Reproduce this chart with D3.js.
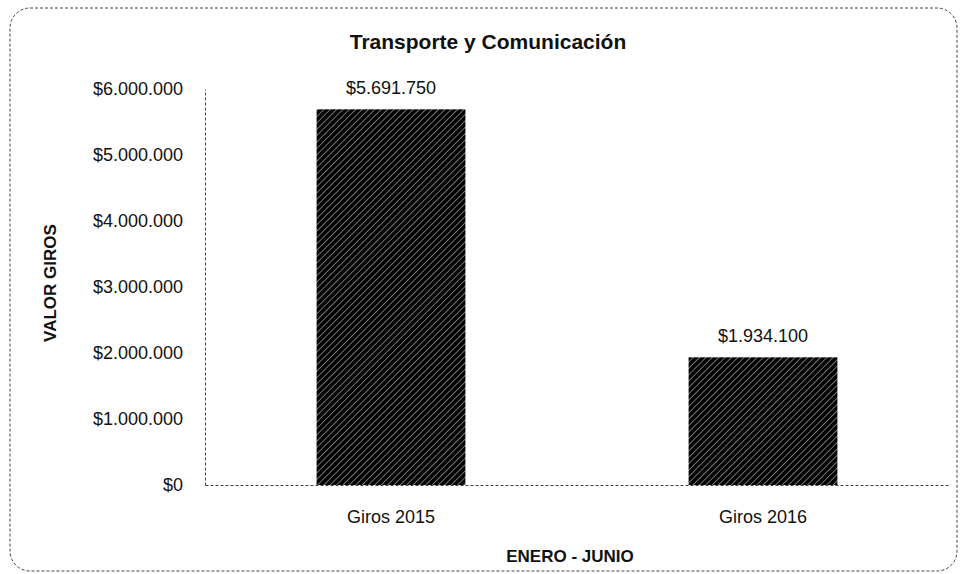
<!DOCTYPE html>
<html>
<head>
<meta charset="utf-8">
<script src="https://cdn.jsdelivr.net/npm/d3@7"></script>
<style>
  body { margin: 0; background: #fff; }
  svg { font-family: "Liberation Sans", Arial, sans-serif; }
</style>
</head>
<body>
<script>
const categories = ["Giros 2015", "Giros 2016"]
const values     = [5691750, 1934100]
const valueLabels = ["$5.691.750", "$1.934.100"]
const yTicks     = [0, 1000000, 2000000, 3000000, 4000000, 5000000, 6000000]

const width = 965, height = 574
const fmt = (v) => "$" + d3.format(",")(v).replace(/,/g, ".")

const svg = d3.select("body").append("svg")
    .attr("width", width)
    .attr("height", height)

const defs = svg.append("defs")
const pat = defs.append("pattern")
    .attr("id", "hatch")
    .attr("patternUnits", "userSpaceOnUse")
    .attr("width", 4.5)
    .attr("height", 4.5)
    .attr("patternTransform", "rotate(45)")
pat.append("rect").attr("width", 4.5).attr("height", 4.5).attr("fill", "#000")
pat.append("line")
    .attr("x1", 0).attr("y1", 0).attr("x2", 0).attr("y2", 4.5)
    .attr("stroke", "#bdbdbd").attr("stroke-width", 1.2)

// outer frame
svg.append("rect")
    .attr("x", 10).attr("y", 8)
    .attr("width", 947).attr("height", 563)
    .attr("rx", 20).attr("ry", 20)
    .attr("fill", "none")
    .attr("stroke", "#444")
    .attr("stroke-width", 1)
    .attr("stroke-dasharray", "3,2")

const x = d3.scaleBand()
    .domain(categories)
    .range([205, 949])
    .paddingInner(0.6)
    .paddingOuter(0.3)

const y = d3.scaleLinear()
    .domain([0, 6000000])
    .range([485, 89])

// bars
svg.append("g")
    .selectAll("rect")
    .data(values)
    .enter()
    .append("rect")
        .attr("x", (d, i) => x(categories[i]))
        .attr("y", (d) => y(d))
        .attr("width", x.bandwidth())
        .attr("height", (d) => y(0) - y(d))
        .attr("fill", "url(#hatch)")

// value labels
svg.append("g")
    .selectAll("text")
    .data(values)
    .enter()
    .append("text")
        .attr("x", (d, i) => x(categories[i]) + x.bandwidth() / 2)
        .attr("y", (d) => y(d) - 15)
        .attr("text-anchor", "middle")
        .attr("font-size", 18)
        .attr("fill", "#111")
        .text((d, i) => valueLabels[i])

// y axis
const yAxis = svg.append("g")
    .attr("transform", "translate(205,0)")
    .call(d3.axisLeft(y).tickValues(yTicks).tickSize(0).tickPadding(22).tickFormat(fmt))
yAxis.select(".domain")
    .attr("stroke", "#444")
    .attr("stroke-dasharray", "3,2")
yAxis.selectAll("text")
    .attr("font-size", 18)
    .attr("font-family", "Liberation Sans, Arial, sans-serif")
    .attr("fill", "#111")

// x axis
const xAxis = svg.append("g")
    .attr("transform", `translate(0,${y(0)})`)
    .call(d3.axisBottom(x).tickSize(0))
xAxis.select(".domain")
    .attr("stroke", "#444")
    .attr("stroke-dasharray", "3,2")
xAxis.selectAll("text")
    .attr("y", 38)
    .attr("dy", 0)
    .attr("font-size", 18)
    .attr("font-family", "Liberation Sans, Arial, sans-serif")
    .attr("fill", "#111")

// titles
svg.append("text")
    .attr("x", 488).attr("y", 49)
    .attr("text-anchor", "middle")
    .attr("font-size", 21)
    .attr("font-weight", "bold")
    .attr("fill", "#111")
    .text("Transporte y Comunicación")

svg.append("text")
    .attr("x", 570).attr("y", 562)
    .attr("text-anchor", "middle")
    .attr("font-size", 17)
    .attr("font-weight", "bold")
    .attr("fill", "#111")
    .text("ENERO - JUNIO")

svg.append("text")
    .attr("transform", "translate(56,283) rotate(-90)")
    .attr("text-anchor", "middle")
    .attr("font-size", 17)
    .attr("font-weight", "bold")
    .attr("fill", "#111")
    .text("VALOR GIROS")
</script>
</body>
</html>
